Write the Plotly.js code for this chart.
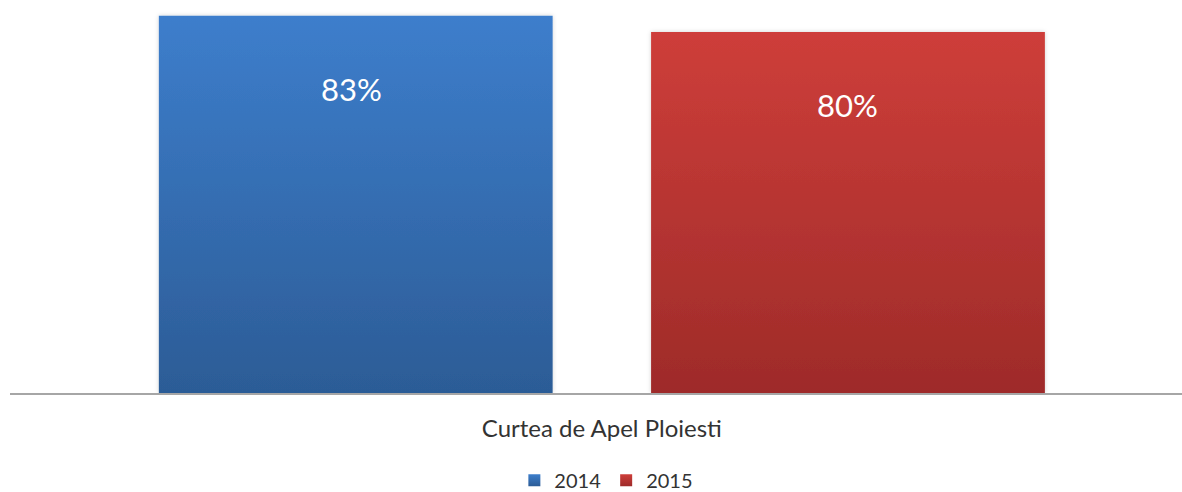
<!DOCTYPE html>
<html>
<head>
<meta charset="utf-8">
<script src="https://cdn.plot.ly/plotly-3.0.1.min.js"></script>
<style>html,body{margin:0;padding:0;background:#fff;}#chart{width:1182px;height:492px;}</style>
</head>
<body>
<div id="chart"></div>
<script>
const categories = ["Curtea de Apel Ploiesti"];
const years = ["2014", "2015"];
const values2014 = [83.2];
const values2015 = [79.6];

const FONT = "Lato, 'Open Sans', sans-serif";
const W = 1182, H = 492;
const margin = {l: 10, r: 0, t: 0, b: 99};
const bargap = 0.16, bargroupgap = 0.2;
const xRange = [-0.505, 0.495];
const yRange = [0, 86.66];

const traces = [
  {type: 'bar', name: years[0], x: categories, y: values2014, marker: {color: '#3A78C3'}, hoverinfo: 'none'},
  {type: 'bar', name: years[1], x: categories, y: values2015, marker: {color: '#C33B37'}, hoverinfo: 'none'}
];

const plotW = W - margin.l - margin.r;
const slotPx = plotW * (1 - bargap) / 2 / (xRange[1] - xRange[0]);
const series = [values2014, values2015];
const annotations = [];
series.forEach((vals, si) => {
  vals.forEach((v, ci) => {
    annotations.push({
      x: categories[ci], y: v, xref: 'x', yref: 'y',
      xshift: (si - 0.5) * slotPx - (si === 0 ? 4 : 0), yshift: -73,
      yanchor: 'middle', xanchor: 'center', showarrow: false,
      text: Math.round(v) + '%',
      font: {family: 'Lato', size: 31, color: '#ffffff'}
    });
  });
});

const layout = {
  width: W, height: H, margin: margin,
  paper_bgcolor: '#ffffff', plot_bgcolor: '#ffffff',
  barmode: 'group', bargap: bargap, bargroupgap: bargroupgap,
  showlegend: true,
  legend: {orientation: 'h', xref: 'container', yref: 'container', x: 0.513, y: 0.024,
           xanchor: 'center', yanchor: 'middle', font: {family: FONT, size: 20, color: '#333333'},
           itemwidth: 30, traceorder: 'normal', tracegroupgap: 0},
  xaxis: {type: 'category', range: xRange, showline: true, linecolor: '#A6A6A6', linewidth: 1.5,
          showgrid: false, zeroline: false, ticks: '', ticklabelstandoff: 14,
          tickfont: {family: FONT, size: 24, color: '#333333'}, fixedrange: true},
  yaxis: {range: yRange, visible: false, showgrid: false, zeroline: false, fixedrange: true},
  annotations: annotations
};

Plotly.newPlot('chart', traces, layout, {displayModeBar: false, staticPlot: true}).then(gd => {
  const svg = gd.querySelector('.main-svg');
  let defs = svg.querySelector('defs');
  const ns = 'http://www.w3.org/2000/svg';
  const grads = [
    {id: 'g2014', top: '#3D7ECC', bot: '#2C5C96'},
    {id: 'g2015', top: '#CE3E3A', bot: '#9E2B29'}
  ];
  grads.forEach(g => {
    const lg = document.createElementNS(ns, 'linearGradient');
    lg.setAttribute('id', g.id);
    lg.setAttribute('x1', '0'); lg.setAttribute('y1', '0');
    lg.setAttribute('x2', '0'); lg.setAttribute('y2', '1');
    [[0, g.top], [1, g.bot]].forEach(([o, c]) => {
      const s = document.createElementNS(ns, 'stop');
      s.setAttribute('offset', o); s.setAttribute('stop-color', c);
      lg.appendChild(s);
    });
    defs.appendChild(lg);
  });
  const f = document.createElementNS(ns, 'filter');
  f.setAttribute('id', 'barshadow');
  f.setAttribute('x', '-5%'); f.setAttribute('y', '-5%');
  f.setAttribute('width', '110%'); f.setAttribute('height', '110%');
  const ds = document.createElementNS(ns, 'feDropShadow');
  ds.setAttribute('dx', '0'); ds.setAttribute('dy', '0');
  ds.setAttribute('stdDeviation', '2'); ds.setAttribute('flood-color', '#000');
  ds.setAttribute('flood-opacity', '0.18');
  f.appendChild(ds);
  defs.appendChild(f);

  const barTraces = gd.querySelectorAll('.barlayer .trace');
  barTraces.forEach((t, i) => {
    t.querySelectorAll('path').forEach(p => {
      p.style.fill = 'url(#' + grads[i].id + ')';
      p.setAttribute('filter', 'url(#barshadow)');
    });
  });
  const legendItems = gd.querySelectorAll('.legend .traces');
  legendItems.forEach((t, i) => {
    t.querySelectorAll('.legendpoints path').forEach(p => {
      p.style.fill = 'url(#' + grads[i].id + ')';
    });
  });
});
</script>
</body>
</html>
